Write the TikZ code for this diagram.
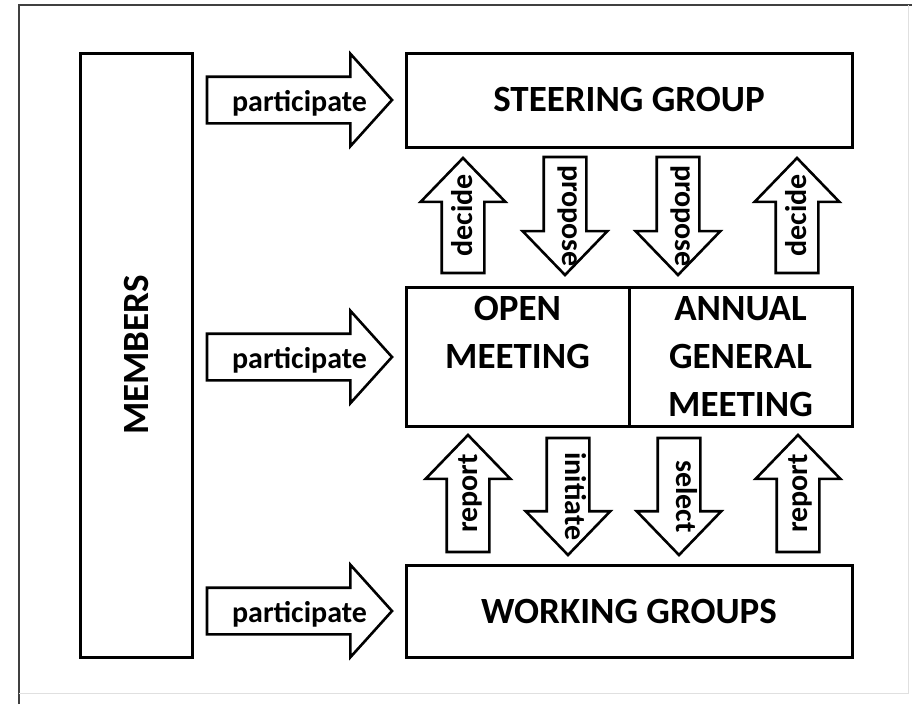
\documentclass[tikz,border=0pt]{standalone}
\usepackage{fontspec}
\setmainfont{Carlito}
\usetikzlibrary{shapes.arrows}

\begin{document}
\begin{tikzpicture}[x=1pt, y=-1pt,
        box/.style={draw, line width=3pt, inner sep=0pt, outer sep=0pt, align=center,
                    font=\bfseries\fontsize{37}{48}\selectfont},
        blockarrow/.style={single arrow, draw, line width=2.6pt, inner sep=0pt, outer sep=0pt,
                    single arrow head indent=0pt, anchor=tail},
        vert/.style={blockarrow, text height=40pt, text depth=0pt,
                    single arrow head extend=21pt, single arrow tip angle=88},
        horiz/.style={blockarrow, text height=44pt, text depth=0pt, minimum height=185pt,
                    single arrow head extend=23pt, single arrow tip angle=96},
        lbl/.style={inner sep=0pt, font=\bfseries\fontsize{30}{36}\selectfont}]
%        \draw [lightgray, thin, step=50] (0, 0) grid (912, 704);
        \useasboundingbox (0, 0) rectangle (912, 704);

        % frame
        \draw [black!75, line width=1.6pt] (19, 704) -- (19, 5) -- (912, 5);
        \draw [black!12, line width=1pt] (908, 5) -- (908, 693) -- (19, 693);

        % boxes
        \node [box, minimum width=112pt, minimum height=604pt] (members) at (136, 355)
            {\rotatebox{90}{MEMBERS}};
        \node [box, minimum width=446pt, minimum height=94pt] (steering) at (629, 100)
            {STEERING GROUP};
        \node [box, minimum width=223pt, minimum height=139pt] (open) at (517.5, 356.5)
            {OPEN\\MEETING\\~};
        \node [box, minimum width=223pt, minimum height=139pt] (annual) at (740.5, 356.5)
            {ANNUAL\\GENERAL\\MEETING};
        \node [box, minimum width=446pt, minimum height=92pt] (working) at (629, 611)
            {WORKING GROUPS};
%
        \foreach \i/\y in {partA/100, partB/357, partC/611}
        {
            \node [horiz] (\i) at (207, \y) {};
            \path (\i.tail) -- (\i.tip)
                node [midway, lbl, text height=33pt, text depth=11pt] {participate};
        }
%
        \foreach \i/\x/\y/\rot/\len/\hgt/\dpt/\txt in
        {
            decideL/463/273/90/115/29/11/decide,
            proposeL/565/157/-90/118/23/17/propose,
            proposeR/678/157/-90/118/23/17/propose,
            decideR/797/273/90/115/29/11/decide,
            reportL/468/552/90/117/29/11/report,
            initiate/568/438/-90/117/23/17/initiate,
            select/679/438/-90/117/23/17/select,
            reportR/798/552/90/117/29/11/report
        }
        {
            \node [vert, rotate=\rot, minimum height=\len pt] (\i) at (\x, \y) {};
            \path (\i.tail) -- (\i.tip)
                node [midway, lbl, rotate=\rot, text height=\hgt pt, text depth=\dpt pt] {\txt};
        }
    \end{tikzpicture}
\end{document}
